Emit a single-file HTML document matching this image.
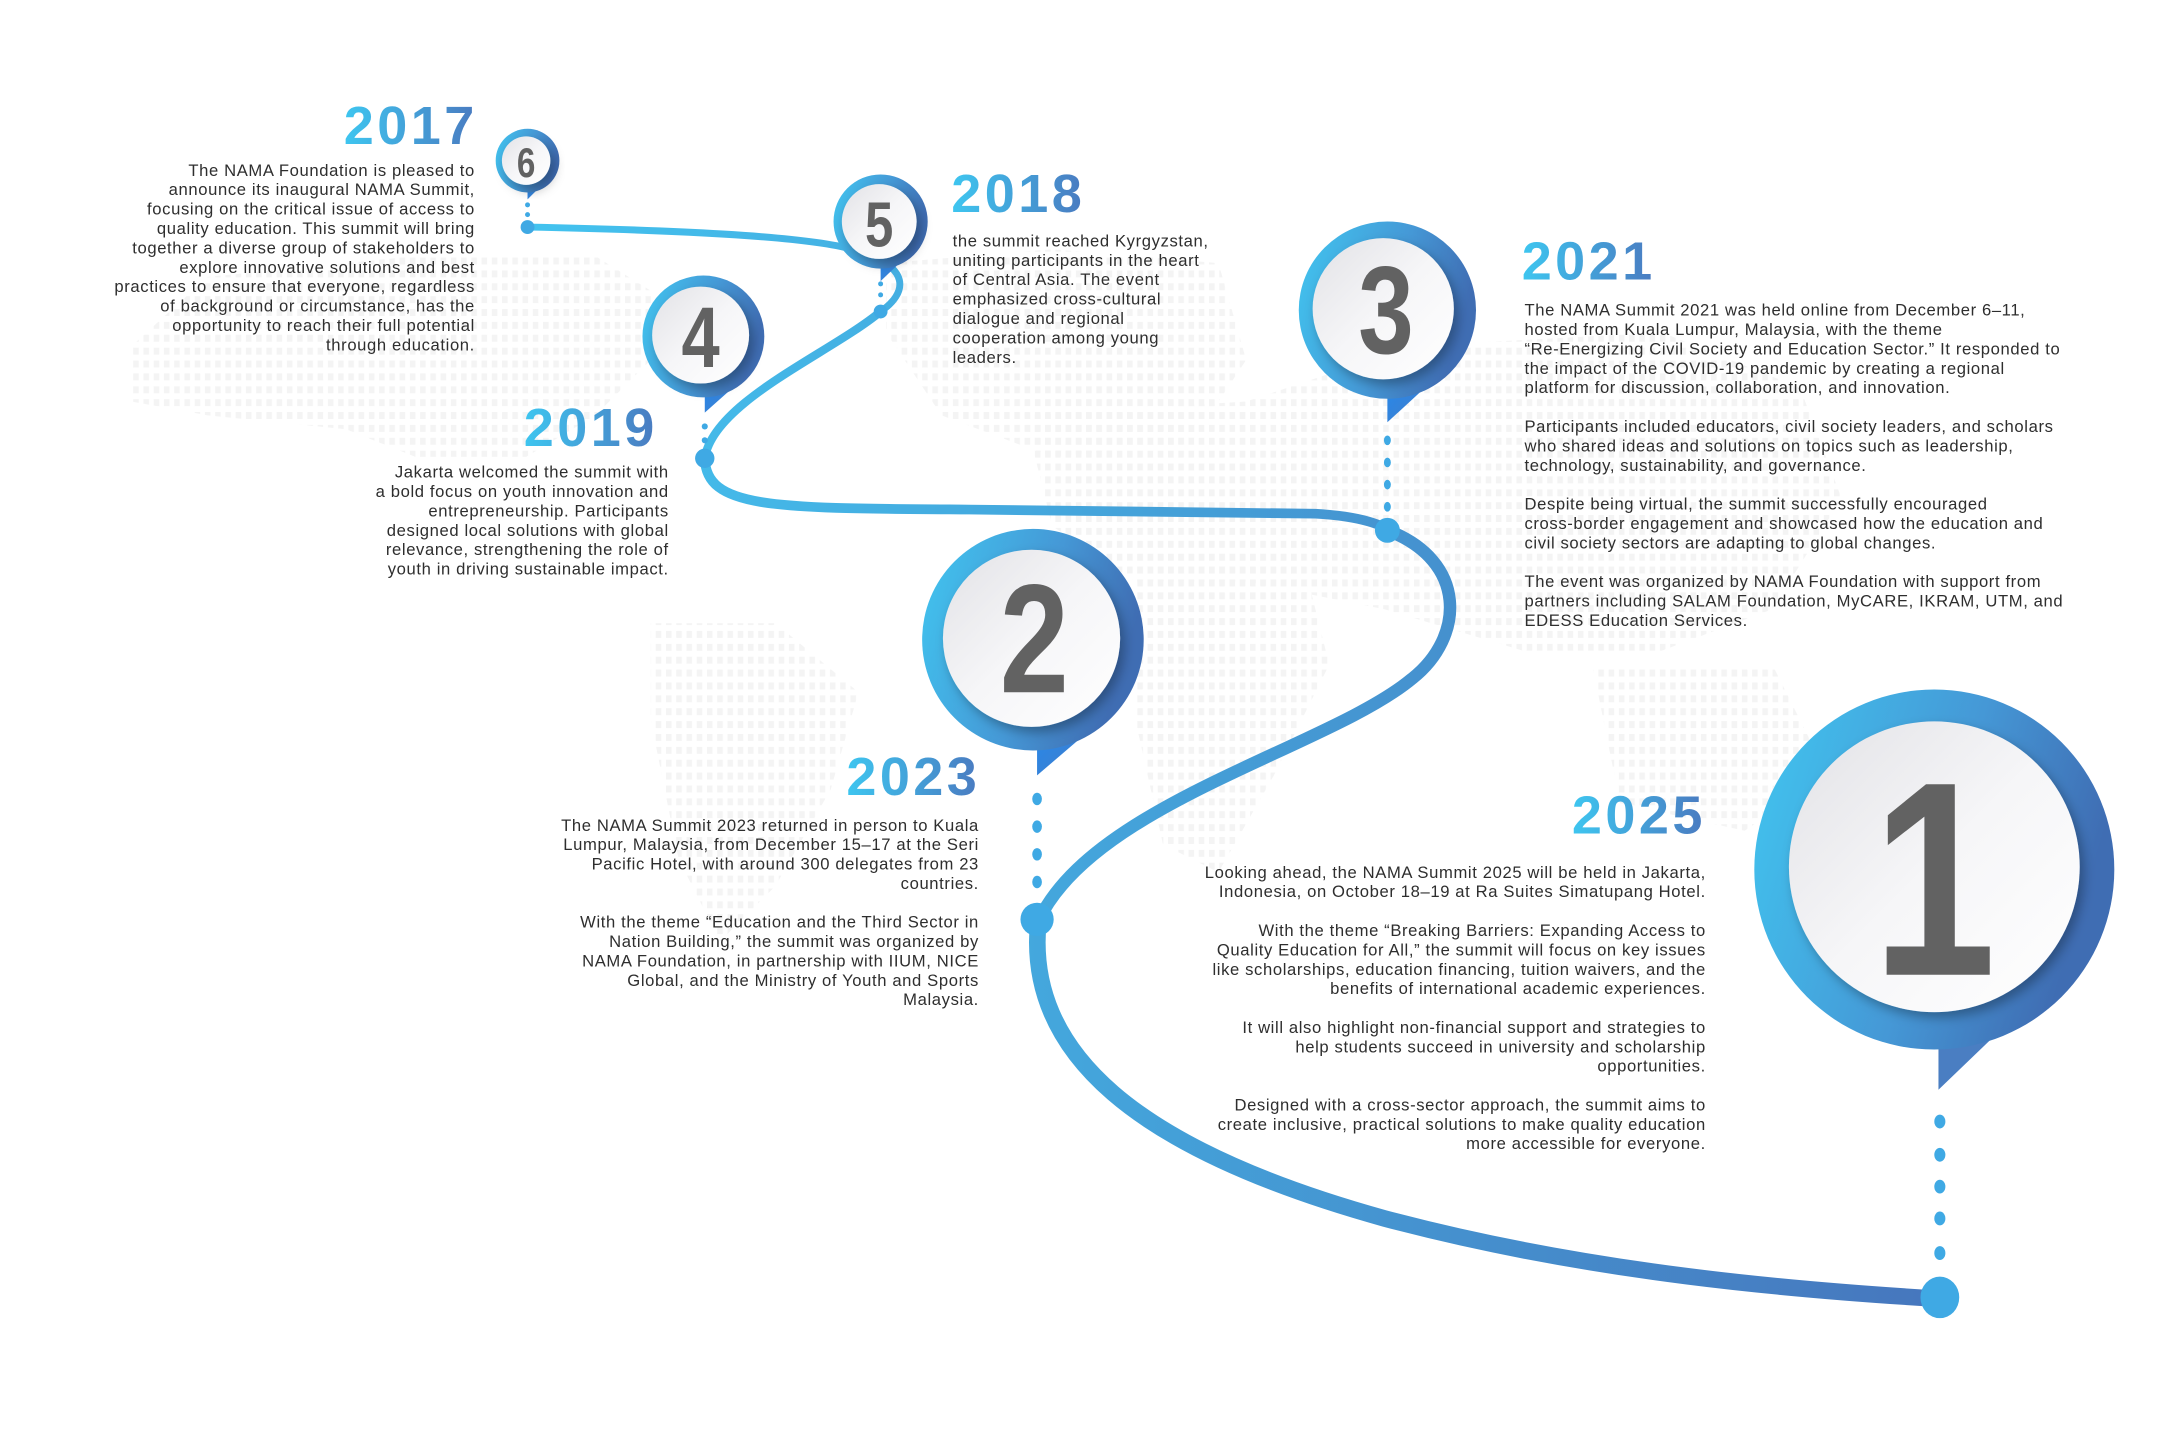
<!DOCTYPE html>
<html><head><meta charset="utf-8"><style>
html,body{margin:0;padding:0;background:#fff;}
#wrap{width:2160px;height:1446px;overflow:hidden;position:relative;}
#c{position:absolute;left:0;top:0;width:1560px;height:1044px;transform:scale(1.384615);transform-origin:0 0;font-family:"Liberation Sans",sans-serif;}
.t{position:absolute;font-size:12px;line-height:14px;color:#2e2e2e;white-space:nowrap;letter-spacing:0.45px;}
.r{text-align:right;}
.y{position:absolute;font-size:39px;font-weight:bold;line-height:40px;white-space:nowrap;background:linear-gradient(90deg,#3ec6f0,#4a7ac0);-webkit-background-clip:text;background-clip:text;color:transparent;letter-spacing:2.5px;}
svg{position:absolute;left:0;top:0;}
</style></head><body><div id="wrap"><div id="c">
<svg width="1560" height="1044" viewBox="0 0 1560 1044">
<defs>
<pattern id="dp" width="7.4" height="9.3" patternUnits="userSpaceOnUse"><rect x="0" y="0" width="4" height="5" fill="#f4f4f4"/></pattern>
<linearGradient id="lg" gradientUnits="userSpaceOnUse" x1="380" y1="0" x2="1400" y2="0"><stop offset="0" stop-color="#43c3ef"/><stop offset="1" stop-color="#4676bd"/></linearGradient>
<linearGradient id="rg" x1="0" y1="0" x2="1" y2="0.3"><stop offset="0" stop-color="#41c6f0"/><stop offset="0.6" stop-color="#4598d6"/><stop offset="1" stop-color="#3f6db3"/></linearGradient>
<linearGradient id="wg" x1="0" y1="0" x2="1" y2="1"><stop offset="0" stop-color="#e2e2e6"/><stop offset="0.5" stop-color="#f6f6f8"/><stop offset="1" stop-color="#ffffff"/></linearGradient>
<linearGradient id="tg" x1="0" y1="0" x2="1" y2="1"><stop offset="0" stop-color="#1e8cf5"/><stop offset="1" stop-color="#4a7ac0"/></linearGradient>
<filter id="sh" x="-30%" y="-30%" width="160%" height="160%"><feDropShadow dx="3" dy="4" stdDeviation="4" flood-color="#000" flood-opacity="0.3"/></filter>
</defs>
<g fill="url(#dp)">
<polygon points="95,250 150,200 300,185 430,185 470,210 470,260 430,300 380,330 300,330 250,310 150,300 95,290"/>
<polygon points="470,450 560,450 620,500 600,570 560,640 520,680 490,620 470,520"/>
<polygon points="640,190 760,180 880,190 900,260 860,320 760,330 680,300 640,240"/>
<polygon points="740,300 900,290 1020,250 1200,240 1300,280 1330,360 1280,440 1200,470 1100,470 1000,440 900,420 820,420 760,380"/>
<polygon points="820,400 940,400 960,480 920,560 880,630 840,610 820,520"/>
<polygon points="1150,480 1280,480 1320,560 1260,600 1170,580"/>
</g>
<g fill="none" stroke="url(#lg)" stroke-linecap="round">
<path d="M381,164 C480,166 580,170 615,180 C660,192 655,212 636,225" stroke-width="5"/>
<path d="M636,225 C600,255 515,290 509,331" stroke-width="6"/>
<path d="M509,331 C510,368 560,367 700,368 L950,371 C985,373 1000,380 1002,383" stroke-width="7"/>
<path d="M1002,383 C1060,405 1058,460 1020,490 C960,540 790,580 750,665" stroke-width="9"/>
<path d="M750,665 C740,760 820,830 1000,880 C1150,920 1300,932 1400,938" stroke-width="12"/>
</g>
<g fill="#3fa9e4">
<circle cx="381" cy="148" r="1.8"/><circle cx="381" cy="155" r="1.8"/><circle cx="381" cy="164" r="5"/>
<circle cx="636" cy="205" r="1.8"/><circle cx="636" cy="213" r="1.8"/><circle cx="636" cy="225" r="5"/>
<circle cx="509" cy="308" r="2.2"/><circle cx="509" cy="318" r="2.2"/><circle cx="509" cy="331" r="7"/>
<ellipse cx="1002" cy="318" rx="2.5" ry="3.5"/><ellipse cx="1002" cy="334" rx="2.5" ry="3.5"/><ellipse cx="1002" cy="350" rx="2.5" ry="3.5"/><ellipse cx="1002" cy="366" rx="2.5" ry="3.5"/><circle cx="1002" cy="383" r="9"/>
<ellipse cx="749" cy="577" rx="3.5" ry="4.5"/><ellipse cx="749" cy="597" rx="3.5" ry="4.5"/><ellipse cx="749" cy="617" rx="3.5" ry="4.5"/><ellipse cx="749" cy="637" rx="3.5" ry="4.5"/><circle cx="749" cy="664" r="12"/>
<ellipse cx="1401" cy="810" rx="4" ry="5"/><ellipse cx="1401" cy="834" rx="4" ry="5"/><ellipse cx="1401" cy="857" rx="4" ry="5"/><ellipse cx="1401" cy="880" rx="4" ry="5"/><ellipse cx="1401" cy="905" rx="4" ry="5"/><ellipse cx="1401" cy="937" rx="14" ry="15"/>
</g>
<g font-family="Liberation Sans,sans-serif" font-weight="bold" fill="#626262" text-anchor="middle">
<polygon points="381,126 395,130 381,144" fill="url(#tg)"/>
<circle cx="381" cy="116" r="23" fill="url(#rg)"/>
<circle cx="380" cy="116" r="17.5" fill="url(#wg)" filter="url(#sh)"/>
<text x="380" y="128" font-size="30" transform="translate(380,0) scale(0.8,1) translate(-380,0)">6</text>
<polygon points="636,178 656,184 636,203" fill="url(#tg)"/>
<circle cx="636" cy="160" r="34" fill="url(#rg)"/>
<circle cx="635" cy="160" r="27" fill="url(#wg)" filter="url(#sh)"/>
<text x="635" y="178" font-size="46" transform="translate(635,0) scale(0.8,1) translate(-635,0)">5</text>
<polygon points="509,267 536,274 509,298" fill="url(#tg)"/>
<circle cx="508" cy="243" r="44" fill="url(#rg)"/>
<circle cx="506" cy="242" r="35" fill="url(#wg)" filter="url(#sh)"/>
<text x="506" y="265" font-size="62" transform="translate(506,0) scale(0.8,1) translate(-506,0)">4</text>
<polygon points="1002,260 1040,270 1002,305" fill="url(#tg)"/>
<circle cx="1002" cy="224" r="64" fill="url(#rg)"/>
<circle cx="999" cy="223" r="51" fill="url(#wg)" filter="url(#sh)"/>
<text x="1001" y="255" font-size="90" transform="translate(1001,0) scale(0.8,1) translate(-1001,0)">3</text>
<polygon points="749,505 798,518 749,560" fill="url(#tg)"/>
<circle cx="746" cy="462" r="80" fill="url(#rg)"/>
<circle cx="745" cy="461" r="64" fill="url(#wg)" filter="url(#sh)"/>
<text x="747" y="500" font-size="112" transform="translate(747,0) scale(0.8,1) translate(-747,0)">2</text>
<polygon points="1400,700 1475,715 1400,787" fill="#4a7ec2"/>
<circle cx="1397" cy="628" r="130" fill="url(#rg)"/>
<circle cx="1397" cy="626" r="105" fill="url(#wg)" filter="url(#sh)"/>
<text x="1397" y="704" font-size="200" transform="translate(1397,0) scale(0.8,1) translate(-1397,0)">1</text>
</g>
</svg>

<div class="y" style="right:1215px;top:72px;">2017</div>
<div class="t r" style="right:1217px;top:116px;">The NAMA Foundation is pleased to<br>announce its inaugural NAMA Summit,<br>focusing on the critical issue of access to<br>quality education. This summit will bring<br>together a diverse group of stakeholders to<br>explore innovative solutions and best<br>practices to ensure that everyone, regardless<br>of background or circumstance, has the<br>opportunity to reach their full potential<br>through education.</div>

<div class="y" style="left:687px;top:121px;">2018</div>
<div class="t" style="left:688px;top:167px;">the summit reached Kyrgyzstan,<br>uniting participants in the heart<br>of Central Asia. The event<br>emphasized cross-cultural<br>dialogue and regional<br>cooperation among young<br>leaders.</div>

<div class="y" style="right:1085px;top:290px;">2019</div>
<div class="t r" style="right:1077px;top:334px;">Jakarta welcomed the summit with<br>a bold focus on youth innovation and<br>entrepreneurship. Participants<br>designed local solutions with global<br>relevance, strengthening the role of<br>youth in driving sustainable impact.</div>

<div class="y" style="left:1099px;top:170px;">2021</div>
<div class="t" style="left:1101px;top:217px;">The NAMA Summit 2021 was held online from December 6–11,<br>hosted from Kuala Lumpur, Malaysia, with the theme<br>“Re-Energizing Civil Society and Education Sector.” It responded to<br>the impact of the COVID-19 pandemic by creating a regional<br>platform for discussion, collaboration, and innovation.<br><br>Participants included educators, civil society leaders, and scholars<br>who shared ideas and solutions on topics such as leadership,<br>technology, sustainability, and governance.<br><br>Despite being virtual, the summit successfully encouraged<br>cross-border engagement and showcased how the education and<br>civil society sectors are adapting to global changes.<br><br>The event was organized by NAMA Foundation with support from<br>partners including SALAM Foundation, MyCARE, IKRAM, UTM, and<br>EDESS Education Services.</div>

<div class="y" style="right:852px;top:542px;">2023</div>
<div class="t r" style="right:853px;top:589px;">The NAMA Summit 2023 returned in person to Kuala<br>Lumpur, Malaysia, from December 15–17 at the Seri<br>Pacific Hotel, with around 300 delegates from 23<br>countries.<br><br>With the theme “Education and the Third Sector in<br>Nation Building,” the summit was organized by<br>NAMA Foundation, in partnership with IIUM, NICE<br>Global, and the Ministry of Youth and Sports<br>Malaysia.</div>

<div class="y" style="right:328px;top:570px;">2025</div>
<div class="t r" style="right:328px;top:623px;">Looking ahead, the NAMA Summit 2025 will be held in Jakarta,<br>Indonesia, on October 18–19 at Ra Suites Simatupang Hotel.<br><br>With the theme “Breaking Barriers: Expanding Access to<br>Quality Education for All,” the summit will focus on key issues<br>like scholarships, education financing, tuition waivers, and the<br>benefits of international academic experiences.<br><br>It will also highlight non-financial support and strategies to<br>help students succeed in university and scholarship<br>opportunities.<br><br>Designed with a cross-sector approach, the summit aims to<br>create inclusive, practical solutions to make quality education<br>more accessible for everyone.</div>
</div></div></body></html>
